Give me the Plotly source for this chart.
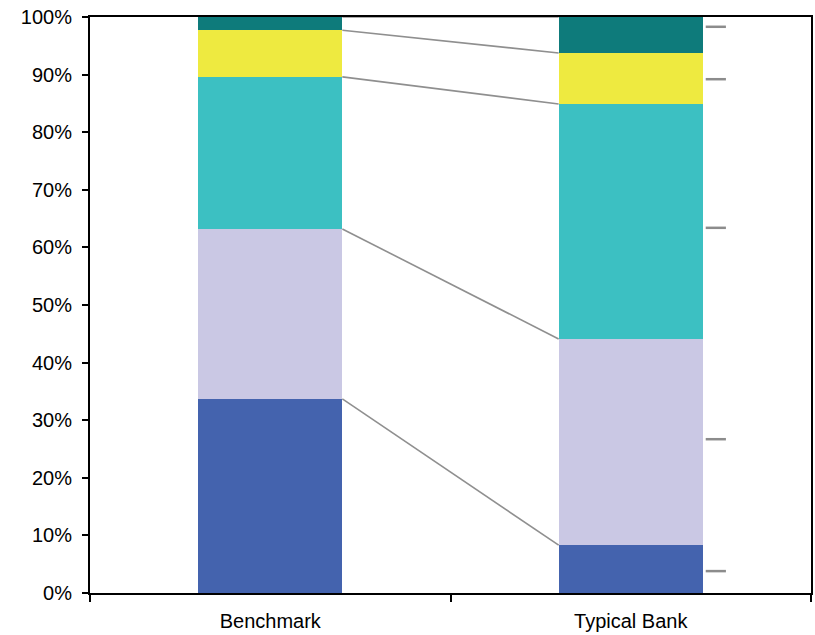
import plotly.graph_objects as go

# Portfolio composition, share of total (%)
categories = ["Benchmark", "Typical Bank"]
segment_names = ["Segment 1", "Segment 2", "Segment 3", "Segment 4", "Segment 5"]
benchmark = [33.7, 29.5, 26.4, 8.1, 2.3]
typical_bank = [8.3, 35.8, 40.8, 8.85, 6.25]
segment_colors = ["#4463ae", "#cac8e4", "#3cc0c2", "#eeea40", "#0e7b7b"]

# levels of the label leader marks beside the Typical Bank column (%)
leader_levels = [3.8, 26.7, 63.4, 89.2, 98.3]

y_ticks = list(range(0, 101, 10))
y_tick_text = [f"{v}%" for v in y_ticks]

BAR_WIDTH = 0.4
FONT = "Liberation Sans, Arial, sans-serif"

fig = go.Figure()
for name, b, t, c in zip(segment_names, benchmark, typical_bank, segment_colors):
    fig.add_trace(go.Bar(
        x=categories, y=[b, t], name=name, width=BAR_WIDTH,
        marker=dict(color=c, line=dict(width=0)),
    ))

# connector lines between cumulative segment boundaries
shapes = []
cum_b, cum_t = 0.0, 0.0
for b, t in zip(benchmark, typical_bank):
    cum_b += b
    cum_t += t
    shapes.append(dict(
        type="line", xref="x", yref="y",
        x0=0 + BAR_WIDTH / 2, y0=cum_b, x1=1 - BAR_WIDTH / 2, y1=cum_t,
        line=dict(color="#8f8f8f", width=1.6), layer="above",
    ))

# short leader marks to the right of the Typical Bank column
for lv in leader_levels:
    shapes.append(dict(
        type="line", xref="x", yref="y",
        x0=1 + BAR_WIDTH / 2 + 0.008, x1=1 + BAR_WIDTH / 2 + 0.064, y0=lv, y1=lv,
        line=dict(color="#8c8c8c", width=2.5), layer="above",
    ))

fig.update_layout(
    barmode="stack",
    width=815, height=635,
    margin=dict(l=90, r=4, t=17, b=42),
    paper_bgcolor="white", plot_bgcolor="white",
    showlegend=False,
    bargap=0,
    shapes=shapes,
    font=dict(family=FONT, size=20, color="black"),
    xaxis=dict(
        type="category", range=[-0.5, 1.5], automargin=False,
        tickson="boundaries", ticks="outside", ticklen=7, tickwidth=1.5, tickcolor="black",
        showline=True, linecolor="black", linewidth=2, mirror=True,
        showgrid=False, zeroline=False, ticklabelstandoff=9,
        tickfont=dict(family=FONT, size=20, color="black"),
    ),
    yaxis=dict(
        range=[0, 100], tickvals=y_ticks, ticktext=y_tick_text, automargin=False,
        ticks="outside", ticklen=6, tickwidth=1.5, tickcolor="black",
        showline=True, linecolor="black", linewidth=2, mirror=True,
        showgrid=False, zeroline=False, ticklabelstandoff=6,
        tickfont=dict(family=FONT, size=20, color="black"),
    ),
)

fig.write_html("out.html")
